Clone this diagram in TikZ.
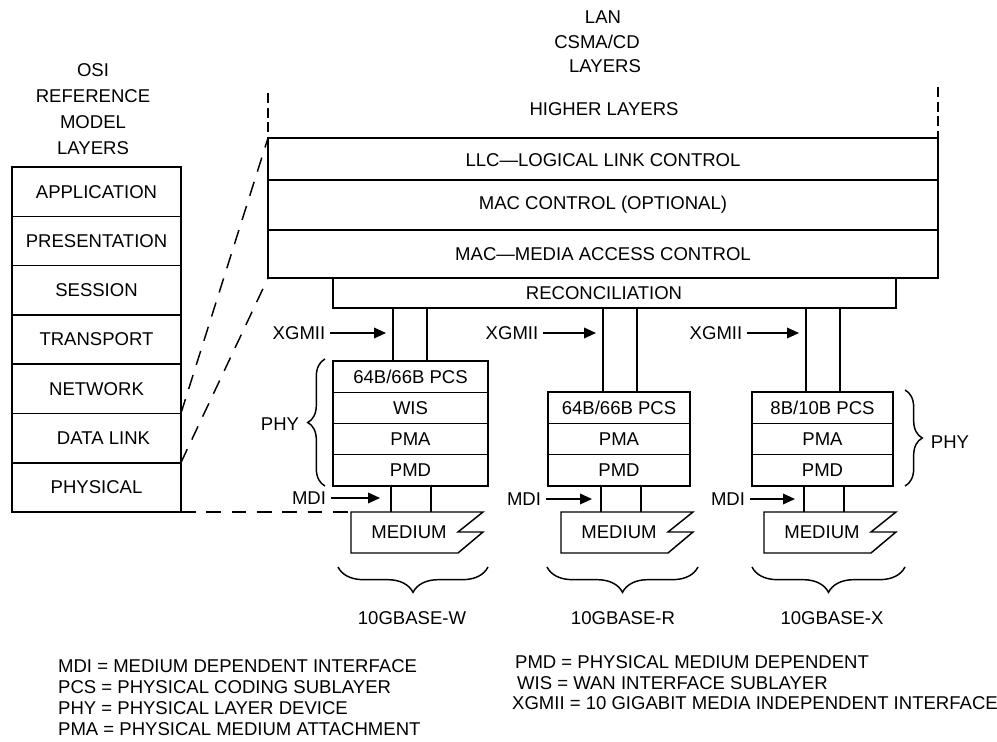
\documentclass[tikz,border=0pt]{standalone}
\usepackage{fontspec}
\setmainfont{Liberation Sans}
\usetikzlibrary{arrows.meta,decorations.pathreplacing}

\begin{document}
\begin{tikzpicture}[x=0.75pt,y=-0.75pt,line width=1.1pt,
  every node/.style={font=\fontsize{13.9}{16}\selectfont},
  longdash/.style={dash pattern=on 11pt off 8pt},
  shortdash/.style={dash pattern=on 7.5pt off 3.5pt},
  feed/.style={->,>={Triangle[length=9pt,width=8pt]}},
  bracebelow/.style={decorate,decoration={brace,mirror,amplitude=19pt}},
  braceside/.style={decorate,decoration={brace,amplitude=13pt}}]

\useasboundingbox (0,0) rectangle (997,742);

% Draw the OSI reference model column
\node (osiT1) at (93,70) {OSI};
\node (osiT2) at (93,96) {REFERENCE};
\node (osiT3) at (93,122) {MODEL};
\node (osiT4) at (93,148) {LAYERS};
\foreach \name/\dx [count=\i] in {APPLICATION/0,PRESENTATION/0,SESSION/0,TRANSPORT/0,NETWORK/0,DATA LINK/7,PHYSICAL/0}
{
  \draw (12,{167+(\i-1)*49.3}) rectangle (181,{167+\i*49.3});
  \node (osi\i) at ({96.5+\dx},{167+(\i-0.5)*49.3}) {\name};
}
\coordinate (osiDL) at (181,413.2);
\coordinate (osiPH) at (181,462.5);
\coordinate (osiBR) at (181,512);

% Draw the LAN CSMA/CD layers
\node (lanT1) at (603,17) {LAN};
\node (lanT2) at (597,42) {CSMA/CD};
\node (lanT3) at (605,66) {LAYERS};
\node (higher) at (604,109) {HIGHER LAYERS};
\draw [shortdash] (268,93) -- (268,138);
\draw [shortdash] (938,87) -- (938,138);
\draw (268,138) rectangle (938,278);
\draw (268,180) -- (938,180);
\draw (268,230) -- (938,230);
\coordinate (lanTL) at (268,138);
\coordinate (lanBL) at (268,278);
\node (llc) at (603,160) {LLC\textemdash LOGICAL LINK CONTROL};
\node (macctl) at (603,205) {MAC CONTROL (OPTIONAL)};
\node (mac) at (603,254) {MAC\textemdash MEDIA ACCESS CONTROL};
\draw (333,278) rectangle (896,308);
\node (recon) at (604,293) {RECONCILIATION};

% Dashed lines from the OSI layers to the LAN layers
\draw [longdash] (osiDL) -- (lanTL);
\draw [longdash] (osiPH) -- (lanBL);

% 10GBASE-W
\draw (393,308) -- (393,361);
\draw (427,308) -- (427,361);
\draw (333,361) rectangle (488,486);
\foreach \y in {392.25,423.5,454.75} \draw (333,\y) -- (488,\y);
\node (pcsW) at (410.5,376.6) {64B/66B PCS};
\node (wisW) at (410.5,407.9) {WIS};
\node (pmaW) at (410.5,439.1) {PMA};
\node (pmdW) at (410.5,470.4) {PMD};
\draw (391,486) -- (391,512);
\draw (431,486) -- (431,512);
\draw (351,512) -- (483,512) -- (458,532) -- (483,532) -- (458,553) -- (351,553) -- cycle;
\coordinate (medW) at (351,512);
\node (mediumW) at (409,532) {MEDIUM};
\draw [longdash] (osiBR) -- (medW);

% 10GBASE-R
\draw (603,308) -- (603,392);
\draw (637,308) -- (637,392);
\draw (548,392) rectangle (690,486);
\foreach \y in {423.3,454.7} \draw (548,\y) -- (690,\y);
\node (pcsR) at (619,407.7) {64B/66B PCS};
\node (pmaR) at (619,439) {PMA};
\node (pmdR) at (619,470.3) {PMD};
\draw (601,486) -- (601,512);
\draw (641,486) -- (641,512);
\draw (561,512) -- (693,512) -- (668,532) -- (693,532) -- (668,553) -- (561,553) -- cycle;
\node (mediumR) at (619,532) {MEDIUM};

% 10GBASE-X
\draw (806,308) -- (806,392);
\draw (840,308) -- (840,392);
\draw (752,392) rectangle (893,486);
\foreach \y in {423.3,454.7} \draw (752,\y) -- (893,\y);
\node (pcsX) at (822.5,407.7) {8B/10B PCS};
\node (pmaX) at (822.5,439) {PMA};
\node (pmdX) at (822.5,470.3) {PMD};
\draw (804,486) -- (804,512);
\draw (844,486) -- (844,512);
\draw (764,512) -- (896,512) -- (871,532) -- (896,532) -- (871,553) -- (764,553) -- cycle;
\node (mediumX) at (822,532) {MEDIUM};

% XGMII and MDI pointers
\node (xgW) at (299,333) {XGMII};
\node (xgR) at (512,333) {XGMII};
\node (xgX) at (716,333) {XGMII};
\coordinate (xgWtip) at (386,333);
\coordinate (xgRtip) at (596,333);
\coordinate (xgXtip) at (799,333);
\draw [feed] (xgW) -- (xgWtip);
\draw [feed] (xgR) -- (xgRtip);
\draw [feed] (xgX) -- (xgXtip);
\node (mdiW) at (309,498) {MDI};
\node (mdiR) at (524,499) {MDI};
\node (mdiX) at (728,499) {MDI};
\coordinate (mdiWtip) at (380,498);
\coordinate (mdiRtip) at (592,499);
\coordinate (mdiXtip) at (795,499);
\draw [feed] (mdiW) -- (mdiWtip);
\draw [feed] (mdiR) -- (mdiRtip);
\draw [feed] (mdiX) -- (mdiXtip);

% PHY braces
\draw [braceside] (325,486) -- (325,359);
\node (phyW) at (280,424) {PHY};
\draw [braceside] (905,390) -- (905,486);
\node (phyX) at (950,442) {PHY};

% Braces under the media
\draw [bracebelow] (338,567) -- (488,567);
\draw [bracebelow] (547,567) -- (698,567);
\draw [bracebelow] (752,567) -- (905,567);
\node (baseW) at (412,618) {10GBASE-W};
\node (baseR) at (623,618) {10GBASE-R};
\node (baseX) at (832,618) {10GBASE-X};

% Legend
\node [anchor=west] (keyMDI) at (53,666) {MDI = MEDIUM DEPENDENT INTERFACE};
\node [anchor=west] (keyPCS) at (53,687) {PCS = PHYSICAL CODING SUBLAYER};
\node [anchor=west] (keyPHY) at (53,708) {PHY = PHYSICAL LAYER DEVICE};
\node [anchor=west] (keyPMA) at (53,729) {PMA = PHYSICAL MEDIUM ATTACHMENT};
\node [anchor=west] (keyPMD) at (510,662) {PMD = PHYSICAL MEDIUM DEPENDENT};
\node [anchor=west] (keyWIS) at (512,683) {WIS = WAN INTERFACE SUBLAYER};
\node [anchor=west] (keyXG) at (507,703) {XGMII = 10 GIGABIT MEDIA INDEPENDENT INTERFACE};

\end{tikzpicture}
\end{document}
